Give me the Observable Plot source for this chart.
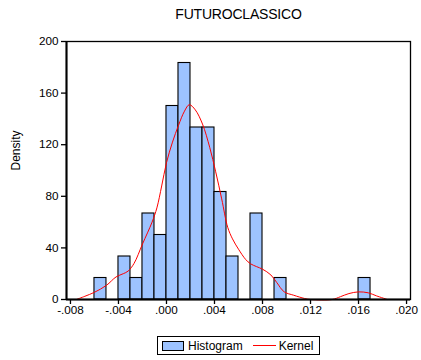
<!DOCTYPE html>
<html>
<head>
<meta charset="utf-8">
<script src="https://cdn.jsdelivr.net/npm/d3@7"></script>
<script src="https://cdn.jsdelivr.net/npm/@observablehq/plot@0.6"></script>
<style>
  body { margin: 0; background: #fff; font-family: Arial, "Liberation Sans", sans-serif; color: #000; }
  #wrap { position: relative; width: 421px; height: 360px; }
  #title { height: 28px; box-sizing: border-box; padding: 6px 0 0 56px; width: 421px;
           text-align: center; font-size: 14px; line-height: 16px; letter-spacing: -0.2px; }
  #legend { position: absolute; left: 157px; top: 336px; width: 161px; height: 17px;
            border: 1px solid #000; display: flex; align-items: center; font-size: 12px; }
  #legend .swatch { margin-left: 4px; width: 20px; height: 8px; border: 1px solid #000; background: #9dc3ff; }
  #legend .line { margin-left: 10px; width: 23px; height: 0; border-top: 1px solid #ff0000; }
  svg { display: block; }
</style>
</head>
<body>
<div id="wrap">
  <div id="title">FUTUROCLASSICO</div>
  <div id="chart"></div>
  <div id="legend">
    <span class="swatch"></span><span style="margin-left:4px">Histogram</span>
    <span class="line"></span><span style="margin-left:3px">Kernel</span>
  </div>
</div>
<script>
// Histogram: bin left edges (width 0.001) and observation counts, 60 observations
const binStarts = [-0.006, -0.004, -0.003, -0.002, -0.001, 0.000, 0.001, 0.002, 0.003, 0.004, 0.005, 0.007, 0.009, 0.016];
const binCounts = [1, 2, 1, 4, 3, 9, 11, 8, 8, 5, 2, 4, 1, 1];
const binWidth = 0.001;
const nObs = 60;

// Kernel density estimate
const kernelX = [-0.0075, -0.0068, -0.0060, -0.0050, -0.0042, -0.0036, -0.0032, -0.0027, -0.0020, -0.0012,
                 -0.0008, -0.0004, 0.0000, 0.0005, 0.0010, 0.0015, 0.0019, 0.0024, 0.0030, 0.0036,
                 0.0041, 0.0046, 0.0051, 0.0055, 0.0060, 0.0066, 0.0070, 0.0075, 0.0080, 0.0087,
                 0.0092, 0.0098, 0.0106, 0.0115, 0.0120, 0.0138, 0.0145, 0.0152, 0.0160, 0.0168,
                 0.0175, 0.0184];
const kernelY = [0, 2.5, 5.6, 11, 17.5, 20, 22, 28, 43, 60,
                 71, 88, 106, 122, 135, 146, 151, 147, 136, 118,
                 99, 78, 56, 47, 39, 31, 27.7, 25.5, 23.5, 19,
                 13, 6, 3.3, 0.8, 0, 0, 2.2, 4.6, 5.9, 5.2,
                 2.8, 0];

// Axes
const xTicks = [-0.008, -0.004, 0.000, 0.004, 0.008, 0.012, 0.016, 0.020];
const xTickLabels = ["-.008", "-.004", ".000", ".004", ".008", ".012", ".016", ".020"];
const yTicks = [0, 40, 80, 120, 160, 200];
const xDomain = [-0.00833, 0.02033];

const bins = binStarts.map((x0, i) => ({
  x0, x1: x0 + binWidth, density: binCounts[i] / (nObs * binWidth)
}));
const kernel = kernelX.map((x, i) => ({x, y: kernelY[i]}));

const plot = Plot.plot({
  width: 421,
  height: 292,
  marginTop: 13,
  marginBottom: 21,
  marginLeft: 66,
  marginRight: 11,
  style: {fontFamily: "Arial, 'Liberation Sans', sans-serif", fontSize: "11.7px", color: "#000", background: "#fff"},
  x: {domain: xDomain},
  y: {domain: [0, 200]},
  marks: [
    Plot.rectY(bins, {x1: "x0", x2: "x1", y: "density", fill: "#9dc3ff", stroke: "#000", strokeWidth: 1.1, inset: 0}),
    Plot.line(kernel, {x: "x", y: "y", stroke: "#ff0000", strokeWidth: 1, curve: "catmull-rom"}),
    Plot.frame({stroke: "#000", strokeWidth: 1.3}),
    Plot.ruleX([xDomain[0]], {stroke: "#000", strokeWidth: 2}),
    Plot.ruleY([0], {stroke: "#000", strokeWidth: 2}),
    Plot.axisY(yTicks, {tickSize: 5, tickPadding: 3, label: null, stroke: "#000", strokeWidth: 1.3}),
    Plot.axisX(xTicks, {tickSize: 5, tickPadding: 1, label: null, stroke: "#000", strokeWidth: 1.3,
                        tickFormat: d => xTickLabels[xTicks.indexOf(d)]}),
    Plot.text(["Density"], {frameAnchor: "left", rotate: -90, dx: -50, fontSize: 12})
  ]
});
document.getElementById("chart").appendChild(plot);
</script>
</body>
</html>
